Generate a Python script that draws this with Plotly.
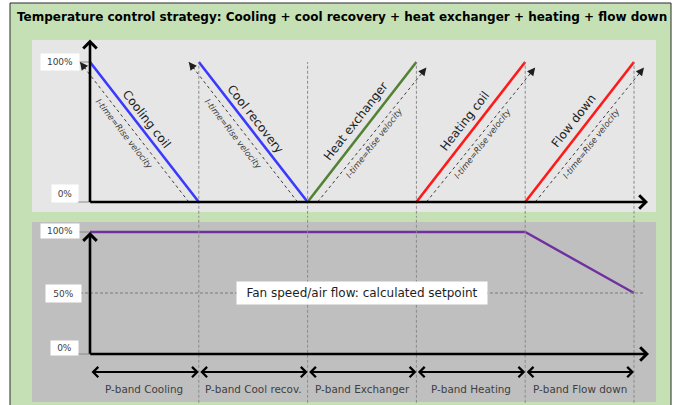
import plotly.graph_objects as go

# ---- data -------------------------------------------------------------
band_labels = ["P-band Cooling", "P-band Cool recov.", "P-band Exchanger",
               "P-band Heating", "P-band Flow down"]
stage_names = ["Cooling coil", "Cool recovery", "Heat exchanger",
               "Heating coil", "Flow down"]
stage_start = [100, 100, 0, 0, 0]      # output % at start of its band
stage_end = [0, 0, 100, 100, 100]      # output % at end of its band
stage_colors = ["#3a3aff", "#3a3aff", "#548235", "#ff1a1a", "#ff1a1a"]
fan_x = [0, 1, 2, 3, 4, 5]
fan_y = [100, 100, 100, 100, 100, 50]
top_ticks = [100, 0]
top_tick_text = ["100%", "0%"]
bottom_ticks = [100, 50, 0]
bottom_tick_text = ["100%", "50%", "0%"]
itime_text = "I-time=Rise velocity"
fan_text = "Fan speed/air flow: calculated setpoint"
title = ("Temperature control strategy: Cooling + cool recovery + "
         "heat exchanger + heating + flow down")

# ---- layout helpers (pixel geometry of the 674x405 canvas) -----------
W, H = 674, 405
PX = 108.8          # pixels per band
X0 = 90             # pixel of band edge 0
FONT = "DejaVu Sans"


def px_x(p):
    return (p - X0) / PX


def y_axis(p0, p100, top, bottom):
    s = (p0 - p100) / 100.0
    return dict(domain=[1 - bottom / H, 1 - top / H],
                range=[(p0 - bottom) / s, (p0 - top) / s],
                visible=False, fixedrange=True)


def paper_rect(x0, y0, x1, y1, fill, line=None):
    return dict(type="rect", xref="paper", yref="paper",
                x0=x0 / W, x1=x1 / W, y0=1 - y1 / H, y1=1 - y0 / H,
                fillcolor=fill, line=line or dict(width=0), layer="below")


fig = go.Figure()
n = len(band_labels)
edges = list(range(n + 1))

# stage output lines (top chart)
for i in range(n):
    fig.add_trace(go.Scatter(
        x=[edges[i], edges[i + 1]], y=[stage_start[i], stage_end[i]],
        mode="lines", line=dict(color=stage_colors[i], width=2.6),
        xaxis="x", yaxis="y", showlegend=False, hoverinfo="skip"))

# fan speed line (bottom chart)
fig.add_trace(go.Scatter(
    x=fan_x, y=fan_y, mode="lines", line=dict(color="#7030a0", width=2.4),
    xaxis="x", yaxis="y2", showlegend=False, hoverinfo="skip"))

shapes = [
    paper_rect(10, 3, 671, 410, "#c5e0b4", dict(color="#2a2a2a", width=1)),
    paper_rect(32, 40, 656, 212, "#e7e6e6"),
    paper_rect(32, 222, 656, 402, "#bfbfbf"),
]
annotations = []
off = 10 / PX  # offset of the I-time arrows from the stage lines

# vertical band separators through both charts
for e in edges[1:]:
    for yref, y0, y1 in (("y", -12, 100), ("y2", -40, 115)):
        shapes.append(dict(type="line", xref="x", yref=yref, x0=e, x1=e,
                           y0=y0, y1=y1, line=dict(color="#8a8a8a", width=1,
                                                   dash="3px,2px")))

# I-time dashed arrows and labels
for i in range(n):
    a, b = edges[i], edges[i + 1]
    if stage_start[i] > stage_end[i]:       # falling line
        xs, xe = b - off, a - off
        ys, ye = stage_end[i], stage_start[i]
        ang, nshift, ishift = 52, (2, 13), (-20, -2)
    else:                                   # rising line
        xs, xe = a + off, b + off
        ys, ye = stage_start[i], stage_end[i] - 4
        ang, nshift, ishift = -52, (-6, 11), (12, -11)
    fig.add_trace(go.Scatter(
        x=[xs, xe], y=[ys, ye], mode="lines",
        line=dict(color="#3c3c3c", width=1, dash="dot"),
        xaxis="x", yaxis="y", showlegend=False, hoverinfo="skip"))
    annotations.append(dict(
        x=xe, y=ye, ax=xe - (xe - xs) * 0.06, ay=ye - (ye - ys) * 0.06,
        xref="x", yref="y", axref="x", ayref="y", text="", showarrow=True,
        arrowhead=2, arrowsize=1.6, arrowwidth=1, arrowcolor="#1e1e1e"))
    mx = (a + b) / 2
    my = (stage_start[i] + stage_end[i]) / 2
    annotations.append(dict(
        x=mx, y=my, xref="x", yref="y", text=stage_names[i],
        showarrow=False, textangle=ang, xshift=nshift[0], yshift=nshift[1],
        font=dict(family=FONT, size=12, color="#1e1e1e")))
    annotations.append(dict(
        x=mx, y=my, xref="x", yref="y", text="<i>%s</i>" % itime_text,
        showarrow=False, textangle=ang, xshift=ishift[0], yshift=ishift[1],
        font=dict(family=FONT, size=8.5, color="#3c3c3c")))

# axes with arrows
axis_arrow = dict(text="", showarrow=True, arrowhead=4, arrowsize=1,
                  arrowwidth=2.6, arrowcolor="black", xref="x", axref="x")
annotations += [
    dict(axis_arrow, x=0, y=116, ax=0, ay=-1, yref="y", ayref="y"),
    dict(axis_arrow, x=px_x(648), y=0, ax=-0.012, ay=0, yref="y", ayref="y"),
    dict(axis_arrow, x=0, y=100, ax=0, ay=-1, yref="y2", ayref="y2"),
    dict(axis_arrow, x=px_x(649), y=0, ax=-0.012, ay=0, yref="y2", ayref="y2"),
]

# band double arrows and labels
for i in range(n):
    annotations.append(dict(
        x=edges[i + 1], y=-14.8, ax=edges[i], ay=-14.8, xref="x", yref="y2",
        axref="x", ayref="y2", text="", showarrow=True, arrowside="end+start",
        arrowhead=4, startarrowhead=4, arrowsize=1, startarrowsize=1,
        arrowwidth=2, arrowcolor="black"))
    annotations.append(dict(
        x=(edges[i] + edges[i + 1]) / 2, y=-28.8, xref="x", yref="y2",
        text=band_labels[i], showarrow=False,
        font=dict(family=FONT, size=10.4, color="#404040")))


def tick_box(val, txt, yref, xc, w, h, dy):
    return dict(x=px_x(xc), y=val, xref="x", yref=yref, text=txt,
                showarrow=False, bgcolor="white", width=w, height=h,
                yshift=dy, font=dict(family=FONT, size=9, color="#404040"))


# percentage boxes with leader lines
annotations.append(tick_box(top_ticks[0], top_tick_text[0], "y", 60, 36, 14, 0))
annotations.append(tick_box(top_ticks[1], top_tick_text[1], "y", 65, 24, 15, 8))
for val in top_ticks:
    shapes.append(dict(type="line", xref="x", yref="y", x0=px_x(77), x1=0,
                       y0=val, y1=val, line=dict(color="#8a8a8a", width=1)))
bx = {100: (60, 36, 12, 1), 50: (63.5, 33, 15, 0), 0: (64.5, 25, 12, 6)}
for val, txt in zip(bottom_ticks, bottom_tick_text):
    xc, w, h, dy = bx[val]
    annotations.append(tick_box(val, txt, "y2", xc, w, h, dy))
    if val == 50:
        shapes.append(dict(type="line", xref="x", yref="y2", x0=px_x(80),
                           x1=px_x(644), y0=val, y1=val,
                           line=dict(color="#7a7a7a", width=1, dash="3px,2px")))
    else:
        shapes.append(dict(type="line", xref="x", yref="y2", x0=px_x(77),
                           x1=0, y0=val, y1=val,
                           line=dict(color="#8a8a8a", width=1)))

# fan text box
annotations.append(dict(
    x=2.5, y=50, xref="x", yref="y2", text=fan_text, showarrow=False,
    bgcolor="white", width=248, height=20,
    font=dict(family=FONT, size=12, color="#1e1e1e")))

# title
annotations.append(dict(
    x=15 / W, y=1 - 17 / H, xref="paper", yref="paper", xanchor="left",
    yanchor="middle", text="<b>%s</b>" % title, showarrow=False,
    font=dict(family=FONT, size=12, color="black")))

fig.update_layout(
    width=W, height=H, autosize=False,
    margin=dict(l=0, r=0, t=0, b=0),
    paper_bgcolor="white", plot_bgcolor="rgba(0,0,0,0)",
    xaxis=dict(domain=[0, 1], range=[px_x(0), px_x(W)], visible=False,
               fixedrange=True),
    yaxis=y_axis(202, 62, 28, 217),
    yaxis2=y_axis(354, 232, 217, 405),
    shapes=shapes, annotations=annotations,
)
fig.update_layout(yaxis2=dict(anchor="x"))

fig.write_html("out.html", config={"displayModeBar": False},
               post_script="document.body.style.margin='0';"
                           "document.body.style.overflow='hidden';")
